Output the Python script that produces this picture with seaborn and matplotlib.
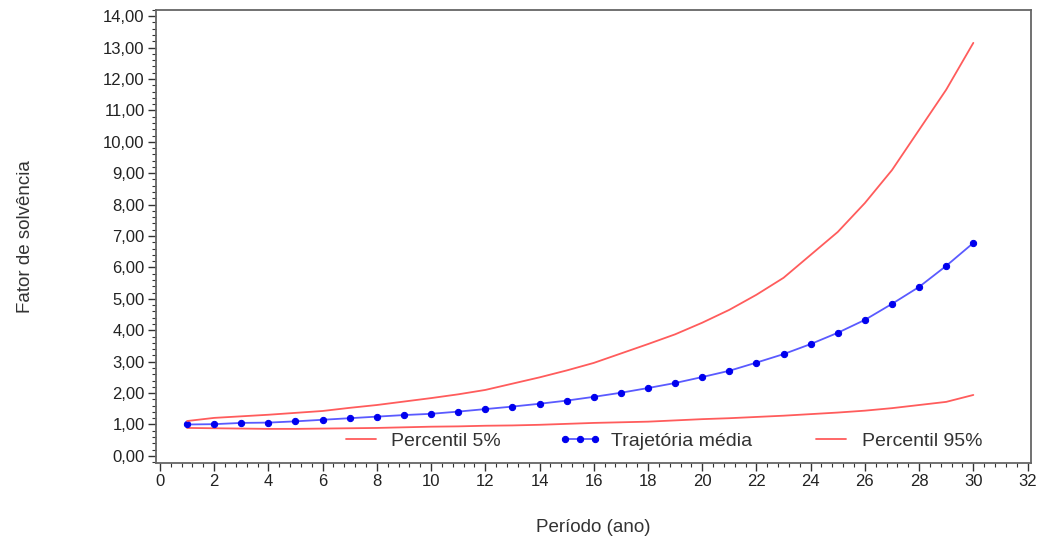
import numpy as np
import pandas as pd
import seaborn as sns
import matplotlib.pyplot as plt
from matplotlib.ticker import MultipleLocator, FuncFormatter

# Data
periodo = list(range(1, 31))
percentil_5 = [0.89, 0.88, 0.87, 0.86, 0.86, 0.87, 0.88, 0.89, 0.91, 0.93,
               0.94, 0.96, 0.97, 0.99, 1.02, 1.05, 1.07, 1.09, 1.13, 1.17,
               1.20, 1.24, 1.28, 1.33, 1.38, 1.44, 1.52, 1.62, 1.72, 1.94]
media = [1.00, 1.01, 1.05, 1.06, 1.10, 1.15, 1.20, 1.25, 1.30, 1.34,
         1.41, 1.49, 1.57, 1.66, 1.76, 1.88, 2.01, 2.16, 2.32, 2.51,
         2.71, 2.97, 3.24, 3.56, 3.92, 4.33, 4.84, 5.38, 6.05, 6.78]
percentil_95 = [1.11, 1.21, 1.26, 1.31, 1.37, 1.43, 1.53, 1.62, 1.73, 1.84,
                1.96, 2.10, 2.30, 2.50, 2.72, 2.96, 3.26, 3.56, 3.87, 4.24,
                4.65, 5.13, 5.67, 6.40, 7.13, 8.05, 9.10, 10.38, 11.66, 13.15]

df = pd.DataFrame({'periodo': periodo, 'p5': percentil_5,
                   'media': media, 'p95': percentil_95})

sns.set_style('white')
plt.rcParams['font.family'] = ['Liberation Sans', 'DejaVu Sans']

fig = plt.figure(figsize=(10.46, 5.49), dpi=100)
ax = fig.add_axes([0.149, 0.157, 0.837, 0.825])

red = '#ff5c5c'
sns.lineplot(data=df, x='periodo', y='p5', color=red, lw=1.3,
             label='Percentil 5%', ax=ax)
sns.lineplot(data=df, x='periodo', y='media', color='#5a5aff', lw=1.3,
             marker='o', markersize=4.5, markerfacecolor='#0000ee',
             markeredgecolor='#0000ee', label='Trajetória média', ax=ax)
sns.lineplot(data=df, x='periodo', y='p95', color=red, lw=1.3,
             label='Percentil 95%', ax=ax)

ax.set_xlim(-0.15, 32.14)
ax.set_ylim(-0.22, 14.2)
ax.xaxis.set_major_locator(MultipleLocator(2))
ax.xaxis.set_minor_locator(MultipleLocator(0.4))
ax.yaxis.set_major_locator(MultipleLocator(1))
ax.yaxis.set_minor_locator(MultipleLocator(0.2))
ax.yaxis.set_major_formatter(FuncFormatter(lambda v, p: f'{v:.2f}'.replace('.', ',')))

ax.tick_params(which='both', direction='out', color='#333333',
               left=True, bottom=True, labelcolor='#222222')
ax.tick_params(which='major', length=6, width=1, labelsize=12, pad=2)
ax.tick_params(which='minor', length=3, width=0.8)
for s in ax.spines.values():
    s.set_color('#666666')
    s.set_linewidth(1.3)

ax.set_xlabel('Período (ano)', fontsize=13.5, color='#333333', labelpad=22)
ax.set_ylabel('Fator de solvência', fontsize=13.5, color='#333333', labelpad=50)

leg = ax.legend(loc='lower center', ncol=3, frameon=False, fontsize=14,
                bbox_to_anchor=(0.577, 0.0), columnspacing=3.0,
                handlelength=2.15, handletextpad=0.5, numpoints=3,
                borderaxespad=0.25)
for t in leg.get_texts():
    t.set_color('#333333')

fig.savefig('out.png', dpi=100)
